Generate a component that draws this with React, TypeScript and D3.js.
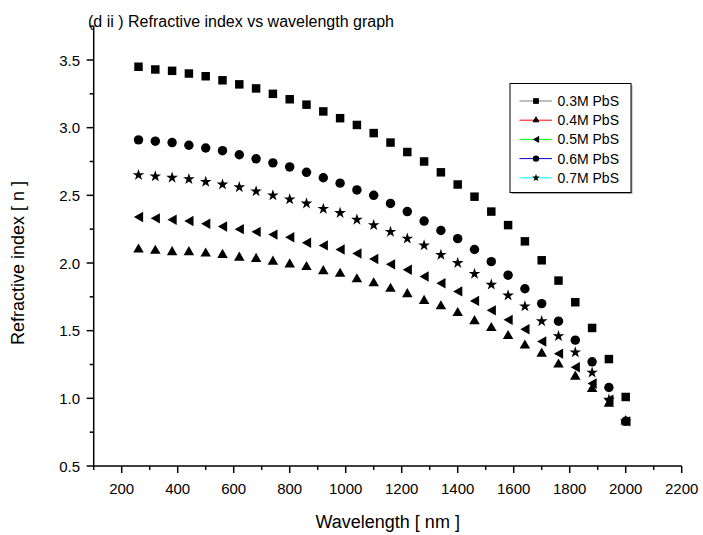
import React from "react";
import * as d3 from "d3";

const wavelengths: number[] = [260, 320, 380, 440, 500, 560, 620, 680, 740, 800, 860, 920, 980, 1040, 1100, 1160, 1220, 1280, 1340, 1400, 1460, 1520, 1580, 1640, 1700, 1760, 1820, 1880, 1940, 2000];

const n03: number[] = [3.45, 3.43, 3.42, 3.40, 3.38, 3.35, 3.32, 3.29, 3.25, 3.21, 3.17, 3.12, 3.07, 3.02, 2.96, 2.89, 2.82, 2.75, 2.67, 2.58, 2.49, 2.38, 2.28, 2.16, 2.02, 1.87, 1.71, 1.52, 1.29, 1.01];
const n04: number[] = [2.10, 2.09, 2.08, 2.08, 2.07, 2.06, 2.04, 2.03, 2.01, 1.99, 1.97, 1.94, 1.92, 1.88, 1.85, 1.81, 1.77, 1.72, 1.68, 1.63, 1.57, 1.52, 1.46, 1.39, 1.33, 1.25, 1.16, 1.07, 0.96, 0.83];
const n05: number[] = [2.34, 2.33, 2.32, 2.31, 2.29, 2.27, 2.25, 2.23, 2.21, 2.19, 2.15, 2.13, 2.10, 2.07, 2.03, 1.99, 1.95, 1.90, 1.85, 1.79, 1.72, 1.65, 1.58, 1.51, 1.42, 1.33, 1.23, 1.11, 0.99, 0.83];
const n06: number[] = [2.91, 2.90, 2.89, 2.87, 2.85, 2.83, 2.80, 2.77, 2.74, 2.71, 2.67, 2.63, 2.59, 2.54, 2.50, 2.44, 2.38, 2.31, 2.24, 2.18, 2.10, 2.01, 1.91, 1.81, 1.70, 1.57, 1.43, 1.27, 1.08, 0.83];
const n07: number[] = [2.65, 2.64, 2.63, 2.62, 2.60, 2.58, 2.56, 2.53, 2.50, 2.47, 2.44, 2.40, 2.37, 2.32, 2.28, 2.23, 2.18, 2.13, 2.06, 2.00, 1.92, 1.84, 1.76, 1.68, 1.57, 1.46, 1.34, 1.19, 0.99, 0.83];

const seriesNames: string[] = ["0.3M PbS", "0.4M PbS", "0.5M PbS", "0.6M PbS", "0.7M PbS"];
const seriesValues: number[][] = [n03, n04, n05, n06, n07];
const seriesShapes: string[] = ["square", "triangle", "left", "circle", "star"];
const legendColors: string[] = ["#808080", "#ff0000", "#00ff00", "#0000cc", "#00ffff"];

const xTicks: number[] = [200, 400, 600, 800, 1000, 1200, 1400, 1600, 1800, 2000, 2200];
const xMinor: number[] = [100, 300, 500, 700, 900, 1100, 1300, 1500, 1700, 1900, 2100];
const yTicks: number[] = [0.5, 1.0, 1.5, 2.0, 2.5, 3.0, 3.5];
const yMinor: number[] = [0.75, 1.25, 1.75, 2.25, 2.75, 3.25, 3.75];

const FONT = "'Liberation Sans', Arial, Helvetica, sans-serif";

function symbolPath(shape: string, scale: number): string {
  if (shape === "square") return d3.symbol(d3.symbolSquare, 72 * scale * scale)() as string;
  if (shape === "circle") return d3.symbol(d3.symbolCircle, 70 * scale * scale)() as string;
  if (shape === "triangle") return d3.symbol(d3.symbolTriangle, 48 * scale * scale)() as string;
  if (shape === "star") return d3.symbol(d3.symbolStar, 42 * scale * scale)() as string;
  // left-pointing triangle
  const w = 4.6 * scale, h = 5.2 * scale;
  const p = d3.path();
  p.moveTo(-w, 0);
  p.lineTo(w, -h);
  p.lineTo(w, h);
  p.closePath();
  return p.toString();
}

export default function App() {
  const x = d3.scaleLinear().domain([100, 2200]).range([93.7, 681.7]);
  const y = d3.scaleLinear().domain([0.5, 3.5]).range([466, 60]);
  const yTop = y(3.75);
  const x0 = x(100), x1 = x(2200), yb = y(0.5);

  const legX = 510, legY = 83.5, legW = 121, legH = 109;

  return (
    <svg width={703} height={535} style={{ position: "absolute", left: 0, top: 0, background: "#fff" }}>
      <rect x={0} y={0} width={703} height={535} fill="#fff" />
      {/* title */}
      <text x={88} y={27} fontFamily={FONT} fontSize={16} fill="#000">(d ii ) Refractive index vs wavelength graph</text>

      {/* axes */}
      <line x1={x0} x2={x1} y1={yb} y2={yb} stroke="#000" strokeWidth={1.5} />
      <line x1={x0} x2={x0} y1={yb} y2={yTop} stroke="#000" strokeWidth={1.5} />
      {xTicks.map((t) => (
        <g key={"xt" + t}>
          <line x1={x(t)} x2={x(t)} y1={yb} y2={yb + 7} stroke="#000" strokeWidth={1.5} />
          <text x={x(t)} y={494} textAnchor="middle" fontFamily={FONT} fontSize={15} fill="#000">{t}</text>
        </g>
      ))}
      {xMinor.map((t) => (
        <line key={"xm" + t} x1={x(t)} x2={x(t)} y1={yb} y2={yb + 4} stroke="#000" strokeWidth={1.5} />
      ))}
      {yTicks.map((t) => (
        <g key={"yt" + t}>
          <line x1={x0} x2={x0 - 7} y1={y(t)} y2={y(t)} stroke="#000" strokeWidth={1.5} />
          <text x={80} y={y(t) + 5.5} textAnchor="end" fontFamily={FONT} fontSize={15} fill="#000">{t.toFixed(1)}</text>
        </g>
      ))}
      {yMinor.map((t) => (
        <line key={"ym" + t} x1={x0} x2={x0 - 4} y1={y(t)} y2={y(t)} stroke="#000" strokeWidth={1.5} />
      ))}

      {/* axis titles */}
      <text x={(x0 + x1) / 2} y={528} textAnchor="middle" fontFamily={FONT} fontSize={18} fill="#000">Wavelength [ nm ]</text>
      <text transform={`translate(24,${(yb + yTop) / 2 + 17}) rotate(-90)`} textAnchor="middle" fontFamily={FONT} fontSize={18} fill="#000">Refractive index [ n ]</text>

      {/* data */}
      {seriesValues.map((vals, si) => (
        <g key={"s" + si}>
          {vals.map((v, i) => (
            <path key={i} d={symbolPath(seriesShapes[si], 1)} transform={`translate(${x(wavelengths[i])},${y(v)})`} fill="#000" />
          ))}
        </g>
      ))}

      {/* legend */}
      <rect x={legX + 1.5} y={legY + 1.5} width={legW} height={legH} fill="#000" opacity={0.35} />
      <rect x={legX} y={legY} width={legW} height={legH} fill="#fff" stroke="#000" strokeWidth={1} />
      {seriesNames.map((name, si) => {
        const ly = 101 + si * 19.2;
        return (
          <g key={"l" + si}>
            <line x1={519.5} x2={552} y1={ly} y2={ly} stroke={legendColors[si]} strokeWidth={1} />
            <path d={symbolPath(seriesShapes[si], 0.68)} transform={`translate(536,${ly})`} fill="#000" />
            <text x={557.5} y={ly + 5} fontFamily={FONT} fontSize={14} fill="#000">{name}</text>
          </g>
        );
      })}
    </svg>
  );
}
